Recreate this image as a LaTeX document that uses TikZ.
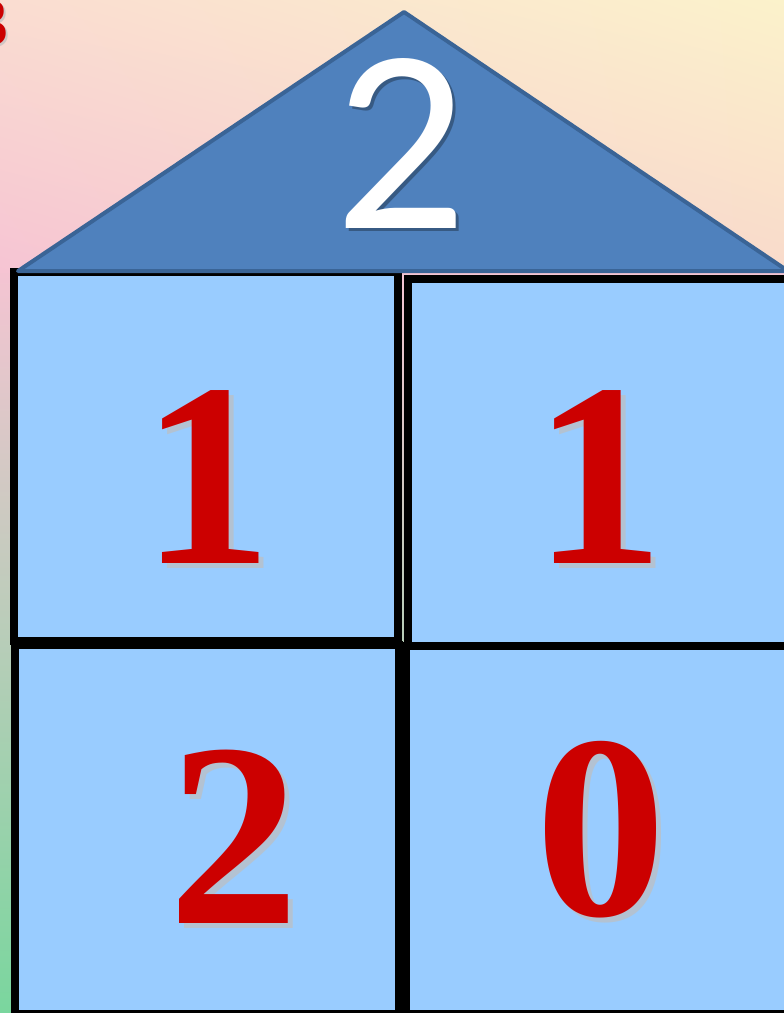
\documentclass[tikz,border=0pt]{standalone}
\usepackage{fontspec}
\setmainfont{Liberation Serif}
\newfontfamily\calib{Carlito}
\usetikzlibrary{shadings}
\definecolor{roof}{HTML}{4F81BD}
\definecolor{roofline}{HTML}{3A6496}
\definecolor{cell}{HTML}{99CCFF}
\definecolor{digitred}{HTML}{CC0000}
\definecolor{bgTL}{HTML}{FADDD1}
\definecolor{bgTR}{HTML}{FBF2CB}
\definecolor{bgBL}{HTML}{F6C4D3}
\definecolor{bgBR}{HTML}{F9DACB}
\definecolor{bgMid}{HTML}{C9C0BC}
\definecolor{bgGreen}{HTML}{7AD69E}
\tikzset{
  cellbox/.style={draw=black, fill=cell, line width=8pt, inner sep=0pt, outer sep=0pt},
  reddigit/.style={font=\bfseries\fontsize{262}{262}\selectfont, text=digitred, inner sep=0pt, outer sep=0pt, anchor=base},
  reddigitshadow/.style={font=\bfseries\fontsize{262}{262}\selectfont, text=gray!50, text opacity=0.7, inner sep=0pt, outer sep=0pt, anchor=base},
  roofdigit/.style={font=\calib\fontsize{262}{262}\selectfont, text=white, inner sep=0pt, outer sep=0pt, anchor=base},
  roofshadow/.style={font=\calib\fontsize{262}{262}\selectfont, text=black, text opacity=0.3, inner sep=0pt, outer sep=0pt, anchor=base},
}
\begin{document}
\begin{tikzpicture}[x=1pt,y=-1pt]
\useasboundingbox (0,0) rectangle (784,1013);
\clip (0,0) rectangle (784,1013);
% background
\shade[top color=bgBL, middle color=bgMid, bottom color=bgGreen] (0,262) rectangle (784,1013);
\shade[upper left=bgTL, upper right=bgTR, lower left=bgBL, lower right=bgBR] (0,0) rectangle (784,272);
% corner digit (partly outside)
\node[font=\bfseries\fontsize{68}{68}\selectfont, text=gray!50, text opacity=0.7, inner sep=0pt, anchor=base east] (cornershadow) at (11,47) {3};
\node[font=\bfseries\fontsize{68}{68}\selectfont, text=digitred, inner sep=0pt, anchor=base east] (corner) at (9,45) {3};
% cells
\node[cellbox, minimum width=384pt, minimum height=369pt] (bl) at (207,829.5) {};
\node[cellbox, minimum width=394.5pt, minimum height=368pt] (br) at (602.75,830) {};
\node[cellbox, minimum width=383.5pt, minimum height=368.5pt] (tl) at (205.75,456.25) {};
\node[cellbox, minimum width=392pt, minimum height=367.5pt] (tr) at (604,462.25) {};
% roof
\coordinate (rl) at (18,271);
\coordinate (rt) at (404,12);
\coordinate (rr) at (788,271);
\draw[fill=roof, draw=roofline, line width=4pt, line join=round] (rl) -- (rt) -- (rr) -- cycle;
% roof number
\node[roofshadow] (roofnumshadow) at (404,231) {2};
\node[roofdigit] (roofnum) at (401,228) {2};
% cell digits
\node[reddigitshadow] (d1s) at (212,568) {1};
\node[reddigit] (d1) at (207,563) {1};
\node[reddigitshadow] (d2s) at (604,568) {1};
\node[reddigit] (d2) at (599,563) {1};
\node[reddigitshadow] (d3s) at (239,928) {2};
\node[reddigit] (d3) at (234,923) {2};
\node[reddigitshadow] (d4s) at (606,920) {0};
\node[reddigit] (d4) at (601,915) {0};
\end{tikzpicture}
\end{document}
